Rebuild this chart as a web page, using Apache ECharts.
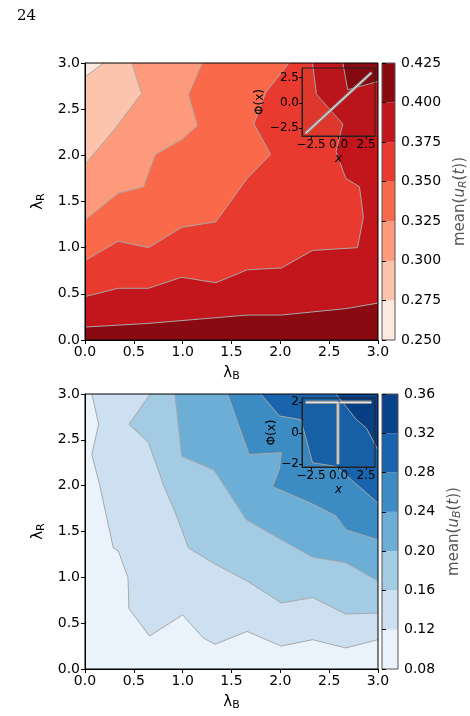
<!DOCTYPE html>
<html><head><meta charset="utf-8">
<script src="https://cdn.jsdelivr.net/npm/echarts@6/dist/echarts.min.js"></script>
<style>html,body{margin:0;padding:0;background:#fff}#c{width:470px;height:716px}</style>
</head><body><div id="c"></div>
<script>
// ---- data ----
const ticks = [0, 0.5, 1.0, 1.5, 2.0, 2.5, 3.0];
const redLevels = [0.25, 0.275, 0.30, 0.325, 0.35, 0.375, 0.40, 0.425];
const redColors = ['#fee9df', '#fcc4ad', '#fc9a7b', '#fa6a4a', '#e83a2e', '#c2161c', '#8a0a12'];
const blueLevels = [0.08, 0.12, 0.16, 0.20, 0.24, 0.28, 0.32, 0.36];
const blueColors = ['#eaf2fb', '#cde0f1', '#a3cbe3', '#6caed6', '#3d8bc3', '#1a64ad', '#08428a'];
// top plot contour boundaries (lambda_B, lambda_R)
const redC1 = [[0, 2.85], [0.19, 3.0]];
const redC2 = [[0, 1.90], [0.30, 2.28], [0.58, 2.67], [0.48, 3.0]];
const redC3 = [[0, 1.30], [0.34, 1.59], [0.60, 1.66], [0.65, 1.81], [0.72, 2.01], [0.99, 2.17], [1.15, 2.32], [1.06, 2.66], [1.20, 3.0]];
const redC4 = [[0, 0.86], [0.34, 1.07], [0.65, 1.00], [0.99, 1.22], [1.34, 1.28], [1.66, 1.75], [1.90, 2.01], [1.73, 2.34], [1.85, 2.68], [2.09, 3.0]];
const redC5 = [[0, 0.47], [0.34, 0.56], [0.65, 0.56], [0.99, 0.68], [1.34, 0.62], [1.66, 0.76], [2.01, 0.78], [2.33, 0.97], [2.79, 1.0], [2.85, 1.33], [2.81, 1.66], [2.67, 1.75], [2.57, 2.04], [2.64, 2.34], [2.37, 2.66], [2.33, 3.0]];
const redC6 = [[0, 0.14], [0.65, 0.18], [1.66, 0.27], [2.01, 0.27], [2.67, 0.34], [3.0, 0.40]];
const redC6b = [[2.64, 3.0], [2.69, 2.71], [3.0, 2.80]];
// bottom plot contour boundaries
const blueD1 = [[0.07, 3.0], [0.14, 2.67], [0.07, 2.34], [0.15, 2.01], [0.29, 1.32], [0.34, 1.29], [0.44, 1.0], [0.45, 0.66], [0.66, 0.36], [1.00, 0.59], [1.21, 0.34], [1.33, 0.27], [1.66, 0.41], [2.01, 0.25], [2.33, 0.32], [2.67, 0.23], [3.0, 0.32]];
const blueD2 = [[0.67, 3.0], [0.45, 2.67], [0.65, 2.47], [0.81, 1.99], [0.93, 1.69], [1.06, 1.32], [1.34, 1.14], [1.66, 0.96], [2.01, 0.72], [2.33, 0.78], [2.67, 0.60], [3.0, 0.61]];
const blueD3 = [[0.92, 3.0], [0.99, 2.32], [1.32, 2.17], [1.65, 1.63], [2.01, 1.41], [2.33, 1.22], [2.67, 1.16], [3.0, 0.96]];
const blueD4 = [[1.46, 3.0], [1.68, 2.34], [2.01, 2.36], [1.99, 2.18], [1.92, 1.99], [2.33, 1.80], [2.57, 1.67], [2.67, 1.52], [3.0, 1.41]];
const blueD5 = [[1.80, 3.0], [1.99, 2.76], [2.21, 2.72], [2.33, 2.25], [2.57, 2.21], [3.0, 1.81]];
const blueD6 = [[2.57, 3.0], [2.78, 2.72], [2.88, 2.63], [3.0, 2.39]];
// insets
const phiTopX = [-3, 3], phiTopY = [-3, 3];
const phiBotA = [[-3, 2], [-0.05, 2], [-0.05, -2]];
const phiBotB = [[0.1, 2], [3, 2]];

// ---- build ----
const TR = [3, 3], BR = [3, 0], BL = [0, 0];
const redRegions = [
  [redC1, 1, [TR, BR, BL]], [redC2, 2, [TR, BR, BL]], [redC3, 3, [TR, BR, BL]],
  [redC4, 4, [TR, BR, BL]], [redC5, 5, [TR, BR, BL]], [redC6, 6, [BR, BL]], [redC6b, 6, [TR]]
];
const blueRegions = [
  [blueD1, 1, [TR]], [blueD2, 2, [TR]], [blueD3, 3, [TR]], [blueD4, 4, [TR]], [blueD5, 5, [TR]], [blueD6, 6, [TR]]
];
const font = 'DejaVu Sans';
function poly(pts, color, xi, yi) {
  return {
    type: 'custom', xAxisIndex: xi, yAxisIndex: yi, data: [0], silent: true, z: 1,
    renderItem: (p, api) => ({ type: 'polygon', shape: { points: pts.map(q => api.coord(q)) }, style: { fill: color } })
  };
}
function line(pts, xi, yi, color, w, z) {
  return { type: 'line', xAxisIndex: xi, yAxisIndex: yi, data: pts, symbol: 'none', silent: true, z: z || 3,
    lineStyle: { color: color, width: w } };
}
const series = [];
function contour(regions, colors, xi, yi) {
  series.push(poly([[0, 0], [3, 0], [3, 3], [0, 3]], colors[0], xi, yi));
  regions.forEach(r => series.push(poly(r[0].concat(r[2]), colors[r[1]], xi, yi)));
  regions.forEach(r => series.push(line(r[0], xi, yi, '#a8a8a8', 1)));
}
contour(redRegions, redColors, 0, 0);
contour(blueRegions, blueColors, 3, 3);
function cbar(levels, colors, xi, yi) {
  series.push({ type: 'custom', xAxisIndex: xi, yAxisIndex: yi, silent: true, z: 1,
    data: colors.map((c, i) => [levels[i], levels[i + 1], i]),
    renderItem: (p, api) => {
      const a = api.coord([0, api.value(0)]), b = api.coord([1, api.value(1)]);
      return { type: 'rect', shape: { x: a[0], y: b[1], width: b[0] - a[0], height: a[1] - b[1] }, style: { fill: colors[api.value(2)] } };
    } });
}
cbar(redLevels, redColors, 2, 2);
cbar(blueLevels, blueColors, 5, 5);
series.push(line(phiTopX.map((x, i) => [x, phiTopY[i]]), 1, 1, '#9a9a9a', 3, 10));
series.push(line(phiTopX.map((x, i) => [x, phiTopY[i]]), 1, 1, '#ffffff', 1, 11));
series.push(line(phiBotA, 4, 4, '#9a9a9a', 3.5, 10));
series.push(line(phiBotA, 4, 4, '#ffffff', 1, 11));
series.push(line(phiBotB, 4, 4, '#9a9a9a', 3.5, 10));
series.push(line(phiBotB, 4, 4, '#ffffff', 1, 11));

const lab = { color: '#000', fontFamily: font, fontSize: 14 };
const nameRich = { i: { fontFamily: font, fontSize: 15 }, s: { fontFamily: font, fontSize: 11, padding: [7, 0, 0, 0] } };
function mainX(gi) {
  return { type: 'value', gridIndex: gi, min: 0, max: 3, interval: 0.5, z: 20,
    axisLine: { lineStyle: { color: '#000' } }, axisTick: { length: 4, lineStyle: { color: '#000' } },
    splitLine: { show: false }, axisLabel: Object.assign({ formatter: v => v.toFixed(1), margin: 5 }, lab),
    name: '{i|λ}{s|B}', nameLocation: 'middle', nameGap: 24, nameTextStyle: { rich: nameRich } };
}
function mainY(gi) {
  return { type: 'value', gridIndex: gi, min: 0, max: 3, interval: 0.5, z: 20,
    axisLine: { lineStyle: { color: '#000' } }, axisTick: { length: 4, lineStyle: { color: '#000' } },
    splitLine: { show: false }, axisLabel: Object.assign({ formatter: v => v.toFixed(1), margin: 5 }, lab),
    name: '{i|λ}{s|R}', nameLocation: 'middle', nameGap: 35, nameRotate: 90, nameTextStyle: { rich: nameRich } };
}
const insLab = { color: '#000', fontFamily: font, fontSize: 12, margin: 3 };
function insX(gi) {
  return { type: 'value', gridIndex: gi, min: -3.32, max: 3.32, z: 20,
    axisLine: { onZero: false, lineStyle: { color: '#222' } }, axisTick: { length: 3, lineStyle: { color: '#000' }, customValues: [-2.5, 0, 2.5] },
    splitLine: { show: false },
    axisLabel: Object.assign({ customValues: [-2.5, 0, 2.5], formatter: v => (v < 0 ? '−' : '') + Math.abs(v).toFixed(1) }, insLab),
    name: 'x', nameLocation: 'middle', nameGap: 17, nameTextStyle: { fontFamily: font, fontSize: 12, fontStyle: 'italic', color: '#000' } };
}
function insY(gi, mn, mx, vals, fmt, gap) {
  return { type: 'value', gridIndex: gi, min: mn, max: mx, z: 20,
    axisLine: { onZero: false, lineStyle: { color: '#222' } }, axisTick: { length: 3, lineStyle: { color: '#000' }, customValues: vals },
    splitLine: { show: false },
    axisLabel: Object.assign({ customValues: vals, formatter: v => (v < 0 ? '−' : '') + fmt(Math.abs(v)) }, insLab),
    name: 'Φ(x)', nameLocation: 'middle', nameGap: gap, nameRotate: 90,
    nameTextStyle: { fontFamily: font, fontSize: 12, color: '#000' } };
}
function cbX(gi) { return { type: 'value', gridIndex: gi, min: 0, max: 1, show: false }; }
function cbY(gi, lv, name, fix) {
  return { type: 'value', gridIndex: gi, min: lv[0], max: lv[lv.length - 1], interval: lv[1] - lv[0], position: 'right', z: 20,
    axisLine: { show: false }, axisTick: { show: true, length: 4, lineStyle: { color: '#000' } }, splitLine: { show: false },
    axisLabel: Object.assign({ formatter: v => v.toFixed(fix), margin: 6 }, lab),
    name: name, nameLocation: 'middle', nameRotate: 90, nameGap: fix === 3 ? 56 : 47,
    nameTextStyle: { rich: { n: { fontFamily: font, fontSize: 15 }, u: { fontFamily: font, fontSize: 15, fontStyle: 'italic' }, s: { fontFamily: font, fontSize: 11, fontStyle: 'italic', padding: [7, 0, 0, 0] } } } };
}
const option = {
  animation: false,
  title: { text: '24', left: 12, top: 4, textStyle: { fontFamily: 'DejaVu Serif', fontWeight: 'normal', fontSize: 15, color: '#000' } },
  grid: [
    { left: 85, width: 293, top: 63, height: 277, show: true, borderColor: '#000', borderWidth: 1, backgroundColor: 'transparent', z: 20 },
    { left: 302, width: 73, top: 68, height: 68, show: true, borderColor: '#222', borderWidth: 1, backgroundColor: 'rgba(0,0,0,0.04)', z: 20 },
    { left: 382, width: 16, top: 63, height: 277, show: true, borderColor: '#555', borderWidth: 1, backgroundColor: 'transparent', z: 20 },
    { left: 85, width: 293, top: 394, height: 275, show: true, borderColor: '#000', borderWidth: 1, backgroundColor: 'transparent', z: 20 },
    { left: 302, width: 73, top: 398, height: 69, show: true, borderColor: '#222', borderWidth: 1, backgroundColor: 'rgba(0,0,0,0.04)', z: 20 },
    { left: 382, width: 16, top: 394, height: 275, show: true, borderColor: '#555', borderWidth: 1, backgroundColor: 'transparent', z: 20 }
  ],
  xAxis: [mainX(0), insX(1), cbX(2), mainX(3), insX(4), cbX(5)],
  yAxis: [mainY(0), insY(1, -3.26, 3.46, [-2.5, 0, 2.5], v => v.toFixed(1), 28), cbY(2, redLevels, '{n|mean(}{u|u}{s|R}{n|(}{u|t}{n|))}', 3),
          mainY(3), insY(4, -2.17, 2.28, [-2, 0, 2], v => v.toFixed(0), 16), cbY(5, blueLevels, '{n|mean(}{u|u}{s|B}{n|(}{u|t}{n|))}', 2)],
  series: series
};
const chart = echarts.init(document.getElementById('c'), null, { renderer: 'canvas' });
chart.setOption(option);
</script></body></html>
